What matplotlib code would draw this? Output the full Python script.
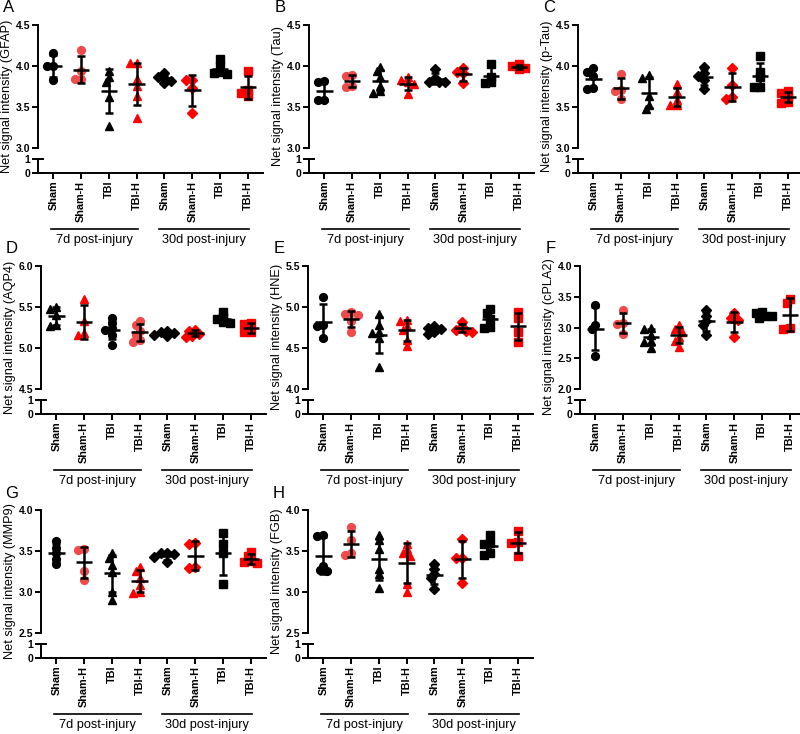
import numpy as np
import matplotlib
matplotlib.use('Agg')
import matplotlib.pyplot as plt
from matplotlib.transforms import blended_transform_factory

plt.rcParams['font.family'] = ['Liberation Sans', 'DejaVu Sans']

W, H = 800, 734

groups = ['Sham', 'Sham-H', 'TBI', 'TBI-H', 'Sham', 'Sham-H', 'TBI', 'TBI-H']
periods = ['7d post-injury', '30d post-injury']

# values, one list per group (7d x4, then 30d x4)
gfap = [[4.16, 4.0, 4.0, 3.83], [4.19, 3.94, 3.84, 3.84],
        [3.94, 3.81, 3.86, 3.62, 3.27], [4.04, 4.04, 3.84, 3.76, 3.64, 3.36],
        [3.91, 3.87, 3.85, 3.82, 3.79], [3.83, 3.83, 3.73, 3.43],
        [4.08, 4.0, 3.93, 3.90, 3.92], [3.94, 3.71, 3.67, 3.64]]
tau = [[3.82, 3.81, 3.59, 3.58], [3.89, 3.88, 3.76, 3.74],
       [3.99, 3.94, 3.86, 3.76, 3.67, 3.70], [3.86, 3.83, 3.80, 3.78, 3.66],
       [3.96, 3.85, 3.81, 3.80, 3.80], [3.97, 3.93, 3.91, 3.79],
       [4.03, 3.87, 3.81, 3.79], [4.02, 4.0, 3.98, 3.96]]
ptau = [[3.97, 3.93, 3.88, 3.73, 3.72], [3.90, 3.71, 3.70, 3.60],
        [3.89, 3.85, 3.63, 3.53, 3.48], [3.78, 3.68, 3.59, 3.53, 3.52],
        [3.99, 3.92, 3.88, 3.83, 3.72], [3.97, 3.77, 3.62, 3.60],
        [4.12, 3.93, 3.86, 3.75, 3.74], [3.69, 3.67, 3.62, 3.56, 3.55]]
aqp4 = [[5.50, 5.48, 5.40, 5.28, 5.27], [5.60, 5.33, 5.18, 5.16],
        [5.36, 5.30, 5.24, 5.22, 5.16, 5.04], [5.33, 5.28, 5.21, 5.16, 5.10, 5.07],
        [5.21, 5.19, 5.18, 5.16, 5.15], [5.22, 5.21, 5.17, 5.14, 5.15],
        [5.44, 5.38, 5.35, 5.32, 5.30], [5.30, 5.29, 5.20, 5.19]]
hne = [[5.12, 4.78, 4.77, 4.62], [4.94, 4.92, 4.90, 4.83, 4.70],
       [4.92, 4.78, 4.70, 4.68, 4.62, 4.27], [4.84, 4.83, 4.77, 4.72, 4.60, 4.53],
       [4.77, 4.75, 4.73, 4.70, 4.67], [4.82, 4.76, 4.72, 4.70, 4.71],
       [4.98, 4.93, 4.85, 4.76, 4.75], [4.94, 4.86, 4.70, 4.57]]
cpla2 = [[3.37, 3.04, 2.98, 2.53], [3.28, 3.07, 3.06, 2.89],
         [3.0, 2.97, 2.87, 2.78, 2.77, 2.66], [3.04, 2.97, 2.93, 2.85, 2.78, 2.68],
         [3.29, 3.18, 3.10, 3.04, 2.88], [3.23, 3.16, 3.12, 2.85],
         [3.26, 3.23, 3.19, 3.18, 3.16], [3.47, 3.40, 2.99, 2.97]]
mmp9 = [[3.62, 3.54, 3.48, 3.40, 3.34], [3.53, 3.51, 3.26, 3.15],
        [3.47, 3.42, 3.33, 3.24, 3.0, 2.9], [3.31, 3.26, 3.17, 3.08, 3.0, 2.99],
        [3.48, 3.47, 3.46, 3.43, 3.36], [3.60, 3.59, 3.29, 3.30],
        [3.72, 3.58, 3.48, 3.10], [3.49, 3.44, 3.38, 3.36, 3.35]]
fgb = [[3.69, 3.68, 3.32, 3.27, 3.26], [3.79, 3.63, 3.47, 3.45],
       [3.69, 3.63, 3.52, 3.28, 3.22, 3.05], [3.58, 3.52, 3.47, 3.44, 3.10, 3.00],
       [3.34, 3.28, 3.22, 3.17, 3.04], [3.65, 3.42, 3.41, 3.11],
       [3.69, 3.60, 3.58, 3.47, 3.45], [3.75, 3.61, 3.60, 3.44]]

RED = '#ff0000'
PINK = '#ef4b4b'
markers_std = [('o', 'k'), ('o', PINK), ('^', 'k'), ('^', RED),
               ('D', 'k'), ('D', RED), ('s', 'k'), ('s', RED)]
markers_d = [('^', 'k'), ('^', RED), ('o', 'k'), ('o', PINK),
             ('D', 'k'), ('D', RED), ('s', 'k'), ('s', RED)]

# letter, protein, data, ylim, ytick step, left px, top px, markers
panels = [
    ('A', 'GFAP', gfap, (3.0, 4.5), 0.5, 38, 25, markers_std),
    ('B', 'Tau', tau, (3.0, 4.5), 0.5, 309, 25, markers_std),
    ('C', 'p-Tau', ptau, (3.0, 4.5), 0.5, 578, 25, markers_std),
    ('D', 'AQP4', aqp4, (4.5, 6.0), 0.5, 41, 266, markers_d),
    ('E', 'HNE', hne, (4.0, 5.5), 0.5, 308, 266, markers_std),
    ('F', 'cPLA2', cpla2, (2.0, 4.0), 0.5, 580, 266, markers_std),
    ('G', 'MMP9', mmp9, (2.5, 4.0), 0.5, 41, 510, markers_std),
    ('H', 'FGB', fgb, (2.5, 4.0), 0.5, 308, 510, markers_std),
]

XLIM = (-0.55, 7.55)
UNIT_PX = 27.8
UPPER_H = 123
LOWER_TOP = 134
LOWER_H = 14
LW = 1.4


def swarm(values, y_px_per_unit, diam=6.5):
    values = np.asarray(values)
    offsets = np.zeros(len(values))
    placed = []
    steps = [0, -0.5, 0.5, -1, 1, -1.5, 1.5, -2, 2, -2.5, 2.5]
    for i in np.argsort(values)[::-1]:
        for s in steps:
            dx = s * diam
            ok = all(np.hypot(dx - px, (values[i] - v) * y_px_per_unit) >= diam * 0.75
                     for px, v in placed)
            if ok:
                break
        placed.append((dx, values[i]))
        offsets[i] = dx / UNIT_PX
    return offsets


def fig_rect(left, top, width, height):
    return [left / W, 1 - (top + height) / H, width / W, height / H]


def draw_panel(fig, letter, protein, data, ylim, step, left, top, markers):
    width = (XLIM[1] - XLIM[0]) * UNIT_PX
    ax = fig.add_axes(fig_rect(left, top, width, UPPER_H))
    low = fig.add_axes(fig_rect(left, top + LOWER_TOP, width, LOWER_H))

    for a in (ax, low):
        a.set_xlim(*XLIM)
        a.patch.set_alpha(0)
        for side in ('top', 'right'):
            a.spines[side].set_visible(False)
        a.spines['left'].set_linewidth(LW)
    ax.spines['bottom'].set_visible(False)
    low.spines['bottom'].set_linewidth(LW)

    ax.set_ylim(*ylim)
    ticks = np.arange(ylim[0], ylim[1] + step / 2, step)
    ax.set_yticks(ticks)
    ax.set_yticklabels(['%.1f' % t for t in ticks], fontsize=7.5, fontweight='bold')
    ax.set_xticks([])
    ax.tick_params(axis='y', direction='out', length=4, width=LW, pad=1.5)

    low.set_ylim(0, 1)
    low.set_yticks([0, 1])
    low.set_yticklabels(['0', '1'], fontsize=7.5, fontweight='bold')
    low.tick_params(axis='y', direction='inout', length=8, width=LW, pad=1.5)
    low.set_xticks(range(len(groups)))
    low.set_xticklabels(groups, rotation=90, fontsize=7.8, fontweight='bold')
    low.tick_params(axis='x', direction='out', length=4, width=LW, pad=1.5)

    y_px = UPPER_H / (ylim[1] - ylim[0])
    for i, (vals, (mk, col)) in enumerate(zip(data, markers)):
        vals = np.asarray(vals)
        xs = i + swarm(vals, y_px)
        ms = 4.8 if mk == 'D' else 5.6
        ax.plot(xs, vals, ls='none', marker=mk, ms=ms, color=col, mec=col,
                zorder=3, clip_on=False)
        m = vals.mean()
        sd = vals.std(ddof=1)
        ax.errorbar(i, m, yerr=sd, fmt='none', ecolor='black', elinewidth=1.8,
                    capsize=2.6, capthick=1.8, zorder=4)
        ax.hlines(m, i - 0.3, i + 0.3, color='black', lw=1.8, zorder=4)

    # group lines and period labels below the category labels
    zero_px = top + LOWER_TOP + LOWER_H
    tr = blended_transform_factory(low.transData, fig.transFigure)
    line_y = 1 - (zero_px + 56) / H
    text_y = 1 - (zero_px + 67) / H
    for (x0, x1), label in zip([(-0.1, 3.05), (3.8, 7.05)], periods):
        low.plot([x0, x1], [line_y, line_y], transform=tr, color='black',
                 lw=1.2, clip_on=False)
        low.text((x0 + x1) / 2, text_y, label, transform=tr, ha='center',
                 va='center', fontsize=9.2)

    fig.text((left - 31) / W, 1 - (top + 71) / H, 'Net signal intensity (%s)' % protein,
             rotation=90, ha='center', va='center', fontsize=9.2)
    fig.text((left - 29) / W, 1 - (top - 17) / H, letter, ha='center', va='center',
             fontsize=12)


fig = plt.figure(figsize=(W / 100, H / 100), dpi=100)
for p in panels:
    draw_panel(fig, *p)

fig.savefig('out.png', dpi=100)
